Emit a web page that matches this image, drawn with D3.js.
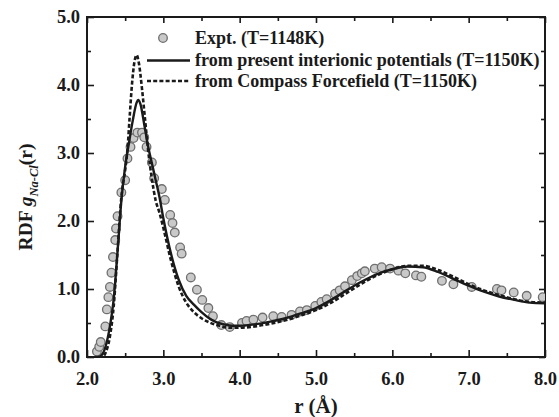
<!DOCTYPE html>
<html>
<head>
<meta charset="utf-8">
<script src="https://cdn.jsdelivr.net/npm/d3@7"></script>
<style>
  html, body { margin: 0; padding: 0; background: #fff; }
  svg { display: block; }
  text { font-family: "Liberation Serif", "Times New Roman", serif; font-weight: bold; fill: #1a1a1a; }
</style>
</head>
<body>
<svg id="chart" width="559" height="417"></svg>
<script>
// Na–Cl radial distribution function, molten NaCl

// Experimental points (T = 1148 K)
const exptR = [2.13, 2.16, 2.18, 2.24, 2.26, 2.28, 2.30, 2.32, 2.34, 2.37, 2.38, 2.40,
  2.45, 2.50, 2.53, 2.57, 2.61, 2.66, 2.72, 2.75, 2.78, 2.85, 2.88, 2.98, 3.02,
  3.09, 3.12, 3.15, 3.22, 3.24, 3.36, 3.44, 3.51, 3.59, 3.65, 3.76, 3.87,
  4.03, 4.09, 4.18, 4.30, 4.44, 4.55, 4.68, 4.79, 4.88, 4.99, 5.07, 5.14,
  5.25, 5.31, 5.38, 5.47, 5.54, 5.60, 5.64, 5.77, 5.86, 5.97, 6.08, 6.17,
  6.31, 6.38, 6.65, 6.80, 7.04, 7.37, 7.43, 7.59, 7.76, 7.97];
const exptG = [0.08, 0.15, 0.22, 0.45, 0.70, 0.88, 1.03, 1.24, 1.47, 1.72, 1.89, 2.07,
  2.42, 2.60, 2.92, 3.09, 3.22, 3.30, 3.30, 3.23, 3.09, 2.86, 2.63, 2.47, 2.31,
  2.09, 1.97, 1.83, 1.61, 1.52, 1.17, 0.99, 0.84, 0.72, 0.60, 0.47, 0.44,
  0.50, 0.53, 0.55, 0.58, 0.60, 0.59, 0.62, 0.67, 0.69, 0.75, 0.81, 0.85,
  0.93, 0.98, 1.04, 1.13, 1.19, 1.23, 1.26, 1.30, 1.32, 1.30, 1.27, 1.23,
  1.20, 1.18, 1.12, 1.07, 1.03, 1.00, 0.98, 0.95, 0.90, 0.88];

// Present interionic potentials (T = 1150 K)
const presentR = [2.10, 2.15, 2.20, 2.25, 2.30, 2.35, 2.40, 2.45, 2.50, 2.55, 2.60, 2.65,
  2.67, 2.70, 2.75, 2.80, 2.85, 2.90, 2.95, 3.00, 3.10, 3.20, 3.30, 3.40, 3.50,
  3.60, 3.70, 3.80, 3.90, 4.00, 4.20, 4.40, 4.60, 4.80, 5.00, 5.20, 5.40, 5.60,
  5.80, 6.00, 6.20, 6.40, 6.60, 6.80, 7.00, 7.20, 7.40, 7.60, 7.80, 8.00];
const presentG = [0.00, 0.00, 0.04, 0.18, 0.45, 0.85, 1.55, 2.30, 2.80, 3.15, 3.48, 3.74,
  3.78, 3.72, 3.42, 3.10, 2.85, 2.60, 2.35, 2.04, 1.52, 1.14, 0.90, 0.77, 0.66,
  0.57, 0.51, 0.48, 0.46, 0.46, 0.48, 0.52, 0.57, 0.64, 0.72, 0.84, 0.98, 1.11,
  1.22, 1.29, 1.33, 1.32, 1.25, 1.15, 1.05, 0.96, 0.89, 0.84, 0.80, 0.79];

// Compass forcefield (T = 1150 K)
const compassR = [2.15, 2.20, 2.25, 2.30, 2.35, 2.40, 2.45, 2.50, 2.53, 2.56, 2.59, 2.62,
  2.65, 2.68, 2.72, 2.76, 2.80, 2.85, 2.90, 2.95, 3.00, 3.10, 3.20, 3.30, 3.40,
  3.50, 3.60, 3.70, 3.80, 3.90, 4.00, 4.20, 4.40, 4.60, 4.80, 5.00, 5.20, 5.40,
  5.60, 5.80, 6.00, 6.20, 6.40, 6.60, 6.80, 7.00, 7.20, 7.40, 7.60, 7.80, 8.00];
const compassG = [0.00, 0.00, 0.08, 0.30, 0.75, 1.55, 2.35, 2.75, 3.05, 3.55, 4.02, 4.33,
  4.44, 4.32, 3.95, 3.50, 3.05, 2.62, 2.30, 2.12, 1.90, 1.42, 1.04, 0.80, 0.66,
  0.57, 0.51, 0.47, 0.44, 0.43, 0.43, 0.45, 0.49, 0.54, 0.61, 0.69, 0.80, 0.94,
  1.08, 1.20, 1.29, 1.34, 1.34, 1.28, 1.18, 1.07, 0.98, 0.91, 0.85, 0.81, 0.80];

const xTicks = [2, 3, 4, 5, 6, 7, 8];
const yTicks = [0, 1, 2, 3, 4, 5];
const legendLabels = ["Expt. (T=1148K)",
  "from present interionic potentials (T=1150K)",
  "from Compass Forcefield (T=1150K)"];

const svg = d3.select("#chart");
const plot = { left: 87, right: 545, top: 17, bottom: 357 };
const ink = "#1a1a1a";

const x = d3.scaleLinear().domain([2, 8]).range([plot.left, plot.right]);
const y = d3.scaleLinear().domain([0, 5]).range([plot.bottom, plot.top]);

const xMinor = d3.range(2.5, 8, 1);
const yMinor = d3.range(0.5, 5, 1);

// clip curves to the plotting frame
svg.append("defs").append("clipPath").attr("id", "frame")
  .append("rect").attr("x", plot.left).attr("y", plot.top)
  .attr("width", plot.right - plot.left).attr("height", plot.bottom - plot.top);

const fmt = d3.format(".1f");

function styleAxis(g) {
  g.selectAll(".domain").remove();
  g.selectAll(".tick line").attr("stroke", ink).attr("stroke-width", 1.6);
  g.selectAll(".tick text").attr("font-size", 18.5).attr("fill", ink)
    .attr("font-family", "Liberation Serif, Times New Roman, serif").attr("font-weight", "bold");
}

// bottom axis: labelled majors, inward ticks
svg.append("g").attr("transform", `translate(0,${plot.bottom})`)
  .call(d3.axisBottom(x).tickValues(xTicks).tickFormat(fmt).tickSizeInner(-7).tickSizeOuter(0).tickPadding(15))
  .call(styleAxis);
svg.append("g").attr("transform", `translate(0,${plot.bottom})`)
  .call(d3.axisBottom(x).tickValues(xMinor).tickFormat("").tickSizeInner(-4).tickSizeOuter(0))
  .call(styleAxis);
// top axis
svg.append("g").attr("transform", `translate(0,${plot.top})`)
  .call(d3.axisTop(x).tickValues(xTicks).tickFormat("").tickSizeInner(-6).tickSizeOuter(0))
  .call(styleAxis);
svg.append("g").attr("transform", `translate(0,${plot.top})`)
  .call(d3.axisTop(x).tickValues(xMinor).tickFormat("").tickSizeInner(-4).tickSizeOuter(0))
  .call(styleAxis);
// left axis
svg.append("g").attr("transform", `translate(${plot.left},0)`)
  .call(d3.axisLeft(y).tickValues(yTicks).tickFormat(fmt).tickSizeInner(-7).tickSizeOuter(0).tickPadding(7))
  .call(styleAxis);
svg.append("g").attr("transform", `translate(${plot.left},0)`)
  .call(d3.axisLeft(y).tickValues(yMinor).tickFormat("").tickSizeInner(-4).tickSizeOuter(0))
  .call(styleAxis);
// right axis
svg.append("g").attr("transform", `translate(${plot.right},0)`)
  .call(d3.axisRight(y).tickValues(yTicks).tickFormat("").tickSizeInner(-6).tickSizeOuter(0))
  .call(styleAxis);
svg.append("g").attr("transform", `translate(${plot.right},0)`)
  .call(d3.axisRight(y).tickValues(yMinor).tickFormat("").tickSizeInner(-4).tickSizeOuter(0))
  .call(styleAxis);

// frame
svg.append("rect")
  .attr("x", plot.left).attr("y", plot.top)
  .attr("width", plot.right - plot.left).attr("height", plot.bottom - plot.top)
  .attr("fill", "none").attr("stroke", ink).attr("stroke-width", 2);

const line = d3.line().x(d => x(d[0])).y(d => y(d[1])).curve(d3.curveMonotoneX);
const curves = svg.append("g").attr("clip-path", "url(#frame)");

// experimental circles
curves.selectAll("circle.expt")
  .data(d3.zip(exptR, exptG))
  .join("circle").attr("class", "expt")
  .attr("cx", d => x(d[0])).attr("cy", d => y(d[1])).attr("r", 4.3)
  .attr("fill", "#c9c9c9").attr("stroke", "#6f6f6f").attr("stroke-width", 1.3);

curves.append("path")
  .datum(d3.zip(compassR, compassG))
  .attr("d", line).attr("fill", "none").attr("stroke", ink)
  .attr("stroke-width", 2.6).attr("stroke-dasharray", "4,2.2");

curves.append("path")
  .datum(d3.zip(presentR, presentG))
  .attr("d", line).attr("fill", "none").attr("stroke", ink)
  .attr("stroke-width", 2.4);

// legend
const legend = svg.append("g");
const legendX = 195;
const legendY = [44, 65.5, 87];
legend.append("circle").attr("cx", 163).attr("cy", legendY[0] - 6).attr("r", 4.3)
  .attr("fill", "#c9c9c9").attr("stroke", "#6f6f6f").attr("stroke-width", 1.3);
legend.append("line").attr("x1", 147).attr("x2", 190)
  .attr("y1", legendY[1] - 5).attr("y2", legendY[1] - 5)
  .attr("stroke", ink).attr("stroke-width", 2.4);
legend.append("line").attr("x1", 147).attr("x2", 190)
  .attr("y1", legendY[2] - 6).attr("y2", legendY[2] - 6)
  .attr("stroke", ink).attr("stroke-width", 2.6).attr("stroke-dasharray", "4,2.2");
legend.selectAll("text").data(legendLabels).join("text")
  .attr("x", legendX).attr("y", (d, i) => legendY[i])
  .attr("font-size", 18).text(d => d);

// axis titles
svg.append("text")
  .attr("x", 316).attr("y", 413).attr("text-anchor", "middle")
  .attr("font-size", 21).text("r (Å)");

const yTitle = svg.append("text")
  .attr("transform", "translate(32,197) rotate(-90)")
  .attr("text-anchor", "middle").attr("font-size", 19.5);
yTitle.append("tspan").text("RDF ");
yTitle.append("tspan").attr("font-style", "italic").text("g");
yTitle.append("tspan").attr("font-style", "italic").attr("font-size", 12.5)
  .attr("dy", 6).text("Na-Cl");
yTitle.append("tspan").attr("dy", -6).text("(r)");
</script>
</body>
</html>
